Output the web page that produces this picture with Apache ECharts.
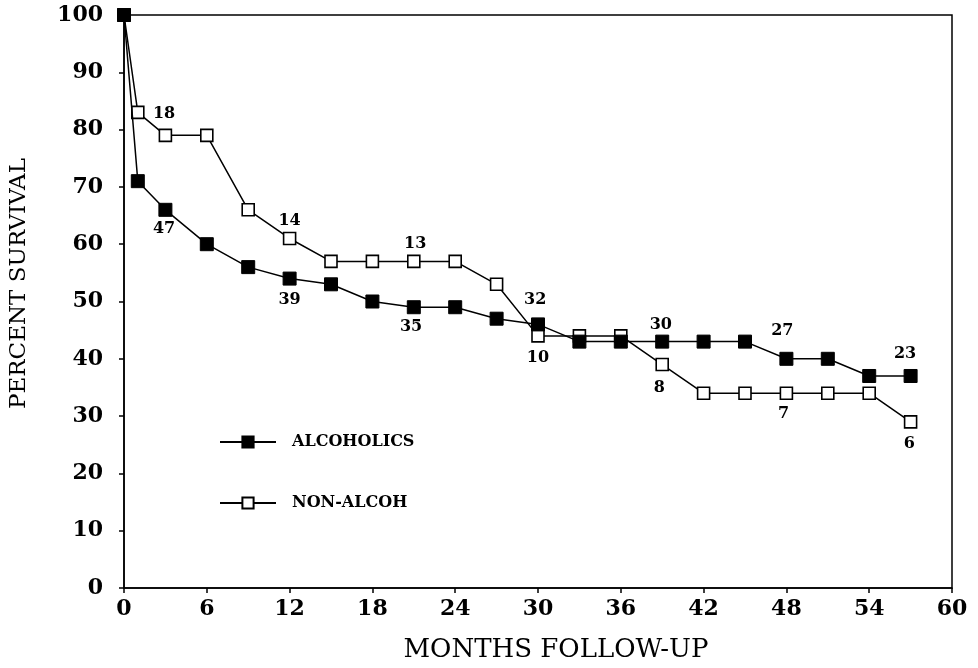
<!DOCTYPE html>
<html>
<head>
<meta charset="utf-8">
<script src="https://cdn.jsdelivr.net/npm/echarts@6/dist/echarts.min.js"></script>
<style>
html,body{margin:0;padding:0;background:#fff;}
#chart{width:978px;height:668px;}
</style>
</head>
<body>
<div id="chart"></div>
<script>
var months = [0,1,3,6,9,12,15,18,21,24,27,30,33,36,39,42,45,48,51,54,57];
var alcoholics = [100,71,66,60,56,54,53,50,49,49,47,46,43,43,43,43,43,40,40,37,37];
var nonAlcoh = [100,83,79,79,66,61,57,57,57,57,53,44,44,44,39,34,34,34,34,34,29];
var xTicks = [0,6,12,18,24,30,36,42,48,54,60];
var yTicks = [0,10,20,30,40,50,60,70,80,90,100];
var atRiskMonth = [2.9,2.9,12.0,12.0,21.1,20.8,29.8,30.0,38.9,38.8,47.7,47.8,56.6,56.9];
var atRiskPct = [82.8,62.7,64.1,50.3,60.1,45.6,50.3,40.1,45.9,34.9,44.9,30.4,40.9,25.2];
var atRiskText = ['18','47','14','39','13','35','32','10','30','8','27','7','23','6'];

var serif = '"DejaVu Serif", serif';
function pairs(xs, ys){ return xs.map(function(x,i){ return [x, ys[i]]; }); }
var labelData = atRiskMonth.map(function(x,i){ return [x, atRiskPct[i], atRiskText[i]]; });

var chart = echarts.init(document.getElementById('chart'), null, {renderer:'canvas'});
var baseX = {type:'value', min:0, max:60, interval:6, gridIndex:0};
var baseY = {type:'value', min:0, max:100, interval:10, gridIndex:0};
chart.setOption({
  animation:false,
  backgroundColor:'#fff',
  grid:{left:123, right:26, top:15, bottom:74, show:true, borderColor:'#000', borderWidth:1.5, backgroundColor:'transparent'},
  legend:{
    data:['ALCOHOLICS','NON-ALCOH'],
    orient:'vertical', left:219, top:434,
    itemWidth:56, itemHeight:14, itemGap:45,
    padding:0,
    textStyle:{fontFamily:serif, fontWeight:'bold', fontSize:16, color:'#000', padding:[0,0,0,11]}
  },
  xAxis:[
    Object.assign({}, baseX, {
      name:'MONTHS FOLLOW-UP', nameLocation:'middle', nameGap:49,
      nameTextStyle:{fontFamily:serif, fontSize:26, color:'#000', padding:[0,0,0,36]},
      axisLine:{lineStyle:{color:'#000', width:1.5}},
      axisTick:{show:true, length:5, lineStyle:{color:'#000', width:1.5}},
      axisLabel:{fontFamily:serif, fontWeight:'bold', fontSize:22, color:'#000', margin:10,
        formatter:function(v){ return xTicks.indexOf(v) >= 0 ? String(v) : ''; }},
      splitLine:{show:false}
    }),
    Object.assign({}, baseX, {
      axisLine:{show:false}, axisLabel:{show:false}, splitLine:{show:false},
      axisTick:{show:true, inside:true, length:5, lineStyle:{color:'#000', width:1.5}}
    })
  ],
  yAxis:[
    Object.assign({}, baseY, {
      name:'PERCENT SURVIVAL', nameLocation:'middle', nameGap:93,
      nameTextStyle:{fontFamily:serif, fontSize:23, color:'#000', padding:[0,0,0,36]},
      axisLine:{lineStyle:{color:'#000', width:1.5}},
      axisTick:{show:true, length:5, lineStyle:{color:'#000', width:1.5}},
      axisLabel:{fontFamily:serif, fontWeight:'bold', fontSize:22, color:'#000', margin:21,
        formatter:function(v){ return yTicks.indexOf(v) >= 0 ? String(v) : ''; }},
      splitLine:{show:false}
    }),
    Object.assign({}, baseY, {
      axisLine:{show:false}, axisLabel:{show:false}, splitLine:{show:false},
      axisTick:{show:true, inside:true, length:5, lineStyle:{color:'#000', width:1.5}}
    })
  ],
  series:[
    {
      name:'NON-ALCOH', type:'line', xAxisIndex:0, yAxisIndex:0,
      data:pairs(months, nonAlcoh),
      symbol:'rect', symbolSize:12,
      lineStyle:{color:'#000', width:1.5},
      itemStyle:{color:'#fff', borderColor:'#000', borderWidth:1.6},
      z:2
    },
    {
      name:'ALCOHOLICS', type:'line', xAxisIndex:0, yAxisIndex:0,
      data:pairs(months, alcoholics),
      symbol:'rect', symbolSize:13,
      lineStyle:{color:'#000', width:1.5},
      itemStyle:{color:'#000', borderColor:'#000', borderWidth:1},
      z:3
    },
    {
      name:'at risk', type:'scatter', xAxisIndex:0, yAxisIndex:0,
      data:labelData, symbolSize:0, silent:true,
      itemStyle:{opacity:1},
      label:{show:true, position:'inside', color:'#000', fontFamily:serif, fontWeight:'bold', fontSize:16,
        formatter:function(p){ return p.value[2]; }},
      z:4
    }
  ]
});
</script>
</body>
</html>
